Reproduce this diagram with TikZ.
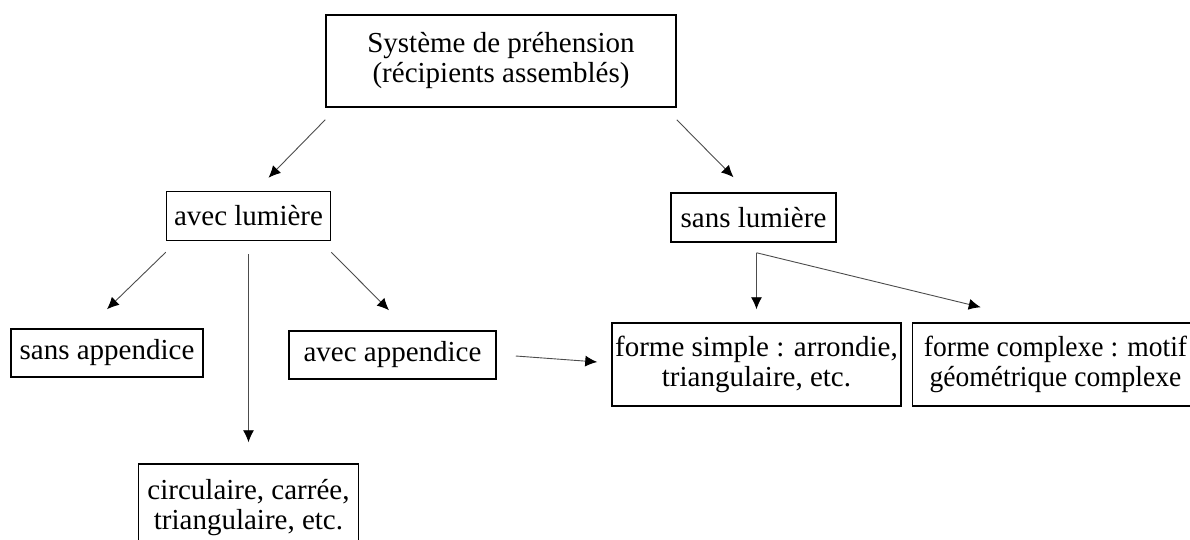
\documentclass[tikz,border=0pt]{standalone}
\usepackage{fontspec}
\setmainfont{Liberation Serif}
\usetikzlibrary{positioning}
\usetikzlibrary{arrows.meta}

\begin{document}
\begin{tikzpicture}[x=0.5pt, y=-0.5pt, font=\fontsize{14.5}{15}\selectfont]
    % Styles:
    \tikzset{boite/.style={draw, line width=0.75pt, align=center, inner sep=0pt}}
    \tikzset{fleche/.style={-{Latex[length=6pt, width=5.5pt, color=black]}, line width=0.45pt, draw=black!70}}

    \clip (0,0) rectangle (1190,540);

    % Main nodes:
    \node[boite, minimum width=175pt, minimum height=46pt] (sys) at (501,61) {Système de préhension\\(récipients assemblés)};
    \node[boite, minimum width=82pt, minimum height=24.5pt] (avec) at (248.5,216) {avec lumière};
    \node[boite, minimum width=82.5pt, minimum height=24.5pt] (sans) at (753.5,217.5) {sans lumière};

    % Lower nodes:
    \node[boite, minimum width=96pt, minimum height=24pt] (sappend) at (107,353) {sans appendice};
    \node[boite, minimum width=103.5pt, minimum height=24pt] (aappend) at (392.5,355) {avec appendice};
    \node[boite, minimum width=110pt, minimum height=44pt] (circ) at (248.5,508) {circulaire, carrée,\\triangulaire, etc.};
    \node[boite, minimum width=144.5pt, minimum height=41.5pt] (simple) at (756.5,364.5) {forme simple : arrondie,\\triangulaire, etc.};
    % box runs past the right edge, text kept inside the page
    \node[boite, minimum width=153pt, minimum height=41.5pt,
          font={\fontsize{14.5}{15}\selectfont\addfontfeature{FakeStretch=0.95}}]
          (complexe) [right = 5pt of simple] {forme complexe : motif\hspace*{10pt}\\géométrique complexe\hspace*{10pt}};

    % Arrows:
    \coordinate (coin) at ([yshift=-5pt]sans.south -| simple.north);
    \draw[fleche] ([yshift=-6pt]sys.south west) -- ([xshift=10pt, yshift=6.5pt]avec.north);
    \draw[fleche] ([yshift=-6pt]sys.south east) -- ([xshift=-10pt, yshift=7.5pt]sans.north);
    \draw[fleche] ([yshift=-5.5pt]avec.south west) -- ([yshift=9.5pt]sappend.north);
    \draw[fleche] ([yshift=-6.5pt]avec.south) -- ([yshift=10.5pt]circ.north);
    \draw[fleche] ([yshift=-5.5pt]avec.south east) -- ([xshift=-1.75pt, yshift=10pt]aappend.north);
    \draw[fleche] ([xshift=9.5pt, yshift=-0.5pt]aappend.east) -- ([xshift=-7pt, yshift=1.25pt]simple.west);
    \draw[fleche] (coin) -- ([yshift=6.5pt]simple.north);
    \draw[fleche] (coin) -- ([xshift=34.5pt, yshift=7.5pt]complexe.north west);
\end{tikzpicture}
\end{document}
